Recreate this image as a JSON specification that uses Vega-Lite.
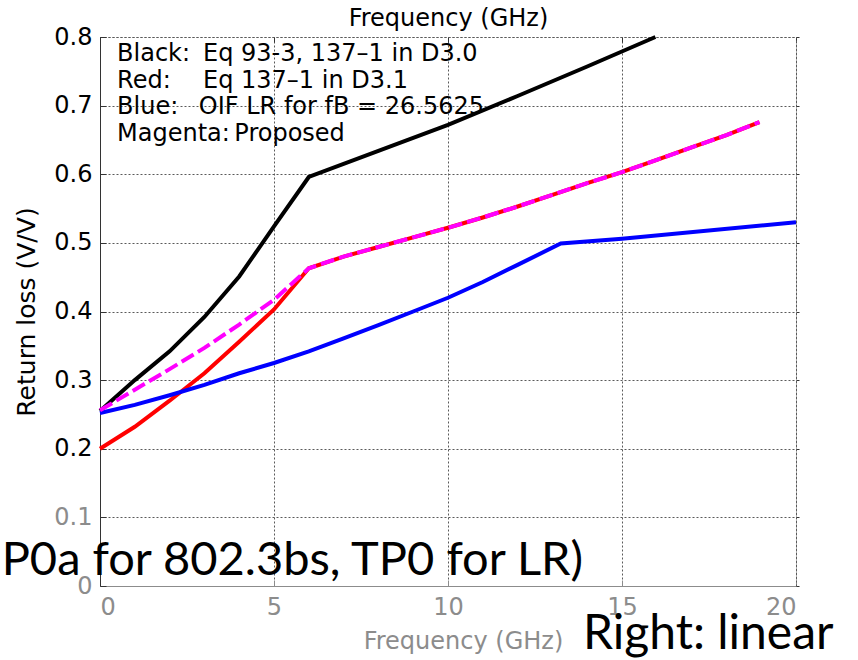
{
  "$schema": "https://vega.github.io/schema/vega-lite/v6.json",
  "width": 696,
  "height": 549,
  "autosize": "none",
  "padding": {"left": 100, "top": 37, "right": 62, "bottom": 74},
  "background": "white",
  "config": {
    "view": {"stroke": null},
    "font": "DejaVu Sans",
    "axis": {"labelFont": "DejaVu Sans", "titleFont": "DejaVu Sans", "titleFontWeight": "normal"}
  },
  "datasets": {
    "curves": [
      {"series": "Black", "f": 0, "rl": 0.255},
      {"series": "Black", "f": 1, "rl": 0.300},
      {"series": "Black", "f": 2, "rl": 0.342},
      {"series": "Black", "f": 3, "rl": 0.392},
      {"series": "Black", "f": 4, "rl": 0.451},
      {"series": "Black", "f": 5, "rl": 0.524},
      {"series": "Black", "f": 6, "rl": 0.596},
      {"series": "Black", "f": 8, "rl": 0.634},
      {"series": "Black", "f": 10, "rl": 0.672},
      {"series": "Black", "f": 12, "rl": 0.714},
      {"series": "Black", "f": 14, "rl": 0.757},
      {"series": "Black", "f": 15.96, "rl": 0.800},
      {"series": "Red", "f": 0, "rl": 0.200},
      {"series": "Red", "f": 1, "rl": 0.232},
      {"series": "Red", "f": 2, "rl": 0.270},
      {"series": "Red", "f": 3, "rl": 0.310},
      {"series": "Red", "f": 4, "rl": 0.356},
      {"series": "Red", "f": 5, "rl": 0.403},
      {"series": "Red", "f": 6, "rl": 0.463},
      {"series": "Red", "f": 7, "rl": 0.480},
      {"series": "Red", "f": 8, "rl": 0.494},
      {"series": "Red", "f": 9, "rl": 0.508},
      {"series": "Red", "f": 10, "rl": 0.522},
      {"series": "Red", "f": 11, "rl": 0.537},
      {"series": "Red", "f": 12, "rl": 0.553},
      {"series": "Red", "f": 13, "rl": 0.570},
      {"series": "Red", "f": 14, "rl": 0.587},
      {"series": "Red", "f": 15, "rl": 0.603},
      {"series": "Red", "f": 16, "rl": 0.621},
      {"series": "Red", "f": 17, "rl": 0.639},
      {"series": "Red", "f": 18, "rl": 0.657},
      {"series": "Red", "f": 18.95, "rl": 0.676},
      {"series": "Blue", "f": 0, "rl": 0.252},
      {"series": "Blue", "f": 1, "rl": 0.264},
      {"series": "Blue", "f": 2, "rl": 0.278},
      {"series": "Blue", "f": 3, "rl": 0.293},
      {"series": "Blue", "f": 4, "rl": 0.310},
      {"series": "Blue", "f": 5, "rl": 0.325},
      {"series": "Blue", "f": 6, "rl": 0.342},
      {"series": "Blue", "f": 7, "rl": 0.361},
      {"series": "Blue", "f": 8, "rl": 0.380},
      {"series": "Blue", "f": 9, "rl": 0.400},
      {"series": "Blue", "f": 10, "rl": 0.420},
      {"series": "Blue", "f": 11, "rl": 0.443},
      {"series": "Blue", "f": 12, "rl": 0.468},
      {"series": "Blue", "f": 13.24, "rl": 0.499},
      {"series": "Blue", "f": 15, "rl": 0.506},
      {"series": "Blue", "f": 20, "rl": 0.530},
      {"series": "Magenta", "f": 0, "rl": 0.256},
      {"series": "Magenta", "f": 1, "rl": 0.286},
      {"series": "Magenta", "f": 2, "rl": 0.316},
      {"series": "Magenta", "f": 3, "rl": 0.347},
      {"series": "Magenta", "f": 4, "rl": 0.381},
      {"series": "Magenta", "f": 5, "rl": 0.417},
      {"series": "Magenta", "f": 6, "rl": 0.463},
      {"series": "Magenta", "f": 7, "rl": 0.480},
      {"series": "Magenta", "f": 8, "rl": 0.494},
      {"series": "Magenta", "f": 9, "rl": 0.508},
      {"series": "Magenta", "f": 10, "rl": 0.522},
      {"series": "Magenta", "f": 11, "rl": 0.537},
      {"series": "Magenta", "f": 12, "rl": 0.553},
      {"series": "Magenta", "f": 13, "rl": 0.570},
      {"series": "Magenta", "f": 14, "rl": 0.587},
      {"series": "Magenta", "f": 15, "rl": 0.603},
      {"series": "Magenta", "f": 16, "rl": 0.621},
      {"series": "Magenta", "f": 17, "rl": 0.639},
      {"series": "Magenta", "f": 18, "rl": 0.657},
      {"series": "Magenta", "f": 18.95, "rl": 0.676}
    ],
    "key": [
      {"f": 0.49, "rl": 0.7653, "text": "Black:"},
      {"f": 2.96, "rl": 0.7653, "text": "Eq 93-3, 137–1 in D3.0"},
      {"f": 0.49, "rl": 0.7264, "text": "Red:"},
      {"f": 2.96, "rl": 0.7264, "text": "Eq 137–1 in D3.1"},
      {"f": 0.49, "rl": 0.6876, "text": "Blue:"},
      {"f": 2.84, "rl": 0.6876, "text": "OIF LR for fB = 26.5625"},
      {"f": 0.49, "rl": 0.6487, "text": "Magenta:"},
      {"f": 3.86, "rl": 0.6487, "text": "Proposed"}
    ],
    "slide": [
      {"part": "caption", "f": 13.88, "rl": 0.016, "text": "P0a for 802.3bs, TP0 for LR)"},
      {"part": "scale", "f": 13.88, "rl": -0.0918, "text": "Right: linear"}
    ]
  },
  "resolve": {"axis": {"x": "independent", "y": "independent"}},
  "layer": [
    {
      "data": {"name": "curves"},
      "transform": [{"filter": "datum.series === 'Black'"}],
      "mark": {"type": "line", "color": "#000000", "strokeWidth": 4},
      "encoding": {
        "x": {
          "field": "f", "type": "quantitative",
          "scale": {"domain": [0, 20], "nice": false},
          "axis": {
            "orient": "bottom", "values": [0, 5, 10, 15, 20],
            "grid": true, "gridColor": "#5a5a5a", "gridDash": [2, 2], "gridWidth": 1,
            "domainColor": "#8c8c8c", "domainWidth": 1,
            "tickColor": "#8c8c8c", "tickSize": -6,
            "labelFontSize": 24, "labelColor": "#8c8c8c", "labelPadding": 15,
            "title": "Frequency (GHz)", "titleFontSize": 24, "titleColor": "#8c8c8c",
            "titlePadding": 10, "titleX": 363
          }
        },
        "y": {
          "field": "rl", "type": "quantitative",
          "scale": {"domain": [0, 0.8], "nice": false},
          "axis": {
            "orient": "left", "values": [0, 0.1, 0.2, 0.3, 0.4, 0.5, 0.6, 0.7, 0.8],
            "format": ".1~f",
            "grid": true, "gridColor": "#5a5a5a", "gridDash": [2, 2], "gridWidth": 1,
            "domainColor": "#333333", "domainWidth": 1,
            "tickColor": "#333333", "tickSize": -6,
            "labelFontSize": 24, "labelPadding": 14,
            "labelColor": {"condition": {"test": "datum.value <= 0.1", "value": "#8c8c8c"}, "value": "#000000"},
            "title": "Return loss (V/V)", "titleFontSize": 25, "titleColor": "#000000",
            "titlePadding": 14
          }
        }
      }
    },
    {
      "data": {"name": "curves"},
      "transform": [{"filter": "datum.series === 'Red'"}],
      "mark": {"type": "line", "color": "#ff0000", "strokeWidth": 4},
      "encoding": {
        "x": {"field": "f", "type": "quantitative", "axis": null},
        "y": {"field": "rl", "type": "quantitative", "axis": null}
      }
    },
    {
      "data": {"name": "curves"},
      "transform": [{"filter": "datum.series === 'Blue'"}],
      "mark": {"type": "line", "color": "#0000ff", "strokeWidth": 4},
      "encoding": {
        "x": {"field": "f", "type": "quantitative", "axis": null},
        "y": {"field": "rl", "type": "quantitative", "axis": null}
      }
    },
    {
      "data": {"name": "curves"},
      "transform": [{"filter": "datum.series === 'Magenta'"}],
      "mark": {"type": "line", "color": "#ff00ff", "strokeWidth": 4, "strokeDash": [14, 5]},
      "encoding": {
        "x": {
          "field": "f", "type": "quantitative",
          "axis": {
            "orient": "top", "values": [0, 5, 10, 15, 20], "labels": false, "grid": false,
            "domainColor": "#5a5a5a", "domainDash": [2, 2], "domainWidth": 1,
            "tickColor": "#333333", "tickSize": -5,
            "title": "Frequency (GHz)", "titleFontSize": 24, "titleColor": "#000000",
            "titlePadding": 6
          }
        },
        "y": {
          "field": "rl", "type": "quantitative",
          "axis": {
            "orient": "right", "values": [0, 0.1, 0.2, 0.3, 0.4, 0.5, 0.6, 0.7, 0.8],
            "labels": false, "grid": false, "title": null,
            "domainColor": "#5a5a5a", "domainDash": [2, 2], "domainWidth": 1,
            "tickColor": "#333333", "tickSize": 3
          }
        }
      }
    },
    {
      "data": {"name": "key"},
      "mark": {"type": "text", "align": "left", "baseline": "alphabetic", "font": "DejaVu Sans", "fontSize": 24, "color": "#000000"},
      "encoding": {
        "x": {"field": "f", "type": "quantitative", "axis": null},
        "y": {"field": "rl", "type": "quantitative", "axis": null},
        "text": {"field": "text"}
      }
    },
    {
      "data": {"name": "slide"},
      "transform": [{"filter": "datum.part === 'caption'"}],
      "mark": {"type": "text", "align": "right", "baseline": "alphabetic", "font": "Lato", "fontSize": 47, "color": "#000000"},
      "encoding": {
        "x": {"field": "f", "type": "quantitative", "axis": null},
        "y": {"field": "rl", "type": "quantitative", "axis": null},
        "text": {"field": "text"}
      }
    },
    {
      "data": {"name": "slide"},
      "transform": [{"filter": "datum.part === 'scale'"}],
      "mark": {"type": "text", "align": "left", "baseline": "alphabetic", "font": "Lato", "fontSize": 48, "color": "#000000"},
      "encoding": {
        "x": {"field": "f", "type": "quantitative", "axis": null},
        "y": {"field": "rl", "type": "quantitative", "axis": null},
        "text": {"field": "text"}
      }
    }
  ]
}
